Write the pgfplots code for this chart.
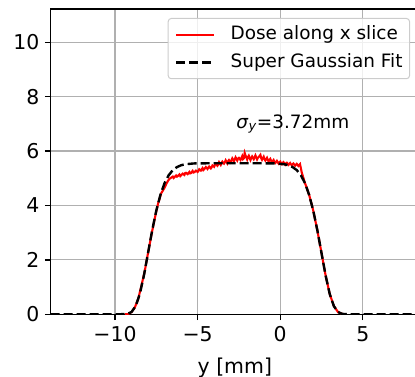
\documentclass[border=0pt]{standalone}
\usepackage{fontspec}
\setmainfont{DejaVu Sans}
\usepackage{pgfplots}
\pgfplotsset{compat=1.18}
\definecolor{gridgray}{HTML}{B0B0B0}
\definecolor{legframe}{HTML}{CCCCCC}
\begin{document}
\begin{tikzpicture}
\path[use as bounding box] (0bp,0bp) rectangle (415bp,377bp);
\begin{axis}[
  at={(50.7bp,62.7bp)}, anchor=south west,
  scale only axis, width=368.3bp, height=305.3bp,
  xmin=-13.89, xmax=8.4, ymin=0, ymax=11.22,
  xtick={-10,-5,0,5}, xticklabels={−10,−5,0,5},
  ytick={0,2,4,6,8,10}, yticklabels={0,2,4,6,8,10},
  xtick pos=lower, ytick pos=left,
  tick align=outside, major tick length=5.7bp,
  tick style={black, line width=1.3bp},
  axis line style={line width=1.3bp, black},
  grid=major, grid style={color=gridgray, line width=1.2bp},
  ticklabel style={font=\fontsize{20.5}{24}\selectfont},
  xticklabel style={yshift=-3bp},
  yticklabel style={xshift=-2bp},
  xlabel={y [mm]},
  xlabel style={font=\fontsize{20.5}{24}\selectfont, at={(axis description cs:0.5,0)}, anchor=base, yshift=-59.3bp},
  legend cell align=left,
  legend image code/.code={\draw[#1] (0bp,0bp) -- (38bp,0bp);},
  legend style={at={(1,1)}, anchor=north east, xshift=-9bp, yshift=-9bp,
    draw=legframe, line width=1bp, rounded corners=3bp, fill=white, fill opacity=0.8, text opacity=1,
    font=\fontsize{18.5}{20}\selectfont,
    inner xsep=7bp, inner ysep=7bp, column sep=15bp, row sep=9.2bp,
    nodes={inner sep=0bp, text height=14bp, text depth=4.5bp}},
]
\addplot[red, line width=2.1bp] coordinates {
(-9.4,0) (-9.2,0.01) (-9.0,0.08) (-8.8,0.25) (-8.6,0.55) (-8.4,1.05) (-8.2,1.58)
(-8.0,2.25) (-7.8,2.9) (-7.6,3.5) (-7.4,4.05) (-7.2,4.45) (-7.0,4.65) (-6.9,4.78)
(-6.8,4.9) (-6.7,4.98) (-6.6,5.02)
(-6.5,5.06) (-6.45,5.01) (-6.4,5.04) (-6.3,5.10) (-6.25,5.06) (-6.2,5.08) (-6.1,5.14) (-6.05,5.08) (-6.0,5.11) (-5.9,5.17)
(-5.8,5.12) (-5.75,5.19) (-5.7,5.20) (-5.6,5.15) (-5.5,5.23) (-5.45,5.18) (-5.4,5.19) (-5.3,5.27) (-5.25,5.21) (-5.2,5.22)
(-5.1,5.28) (-5.0,5.23) (-4.95,5.27) (-4.9,5.33) (-4.8,5.28) (-4.7,5.37) (-4.65,5.30) (-4.6,5.33) (-4.5,5.41)
(-4.4,5.34) (-4.35,5.39) (-4.3,5.43) (-4.2,5.36) (-4.15,5.40) (-4.1,5.47) (-4.0,5.42) (-3.95,5.49) (-3.9,5.53) (-3.8,5.46)
(-3.75,5.51) (-3.7,5.59) (-3.6,5.49) (-3.55,5.56) (-3.5,5.61) (-3.4,5.54) (-3.35,5.59) (-3.3,5.66) (-3.2,5.55) (-3.15,5.63) (-3.1,5.67)
(-3.0,5.59) (-2.95,5.66) (-2.9,5.73) (-2.8,5.62) (-2.75,5.70) (-2.7,5.77) (-2.6,5.65) (-2.55,5.72) (-2.5,5.75) (-2.4,5.67)
(-2.3,5.81) (-2.25,5.70) (-2.2,5.73) (-2.15,5.93) (-2.1,5.84) (-2.0,5.69) (-1.95,5.78) (-1.9,5.83) (-1.8,5.67) (-1.75,5.74) (-1.7,5.80)
(-1.6,5.70) (-1.55,5.77) (-1.5,5.84) (-1.4,5.69) (-1.35,5.75) (-1.3,5.78) (-1.2,5.86) (-1.15,5.74) (-1.1,5.68) (-1.0,5.79)
(-0.95,5.70) (-0.9,5.65) (-0.8,5.75) (-0.75,5.67) (-0.7,5.62) (-0.6,5.71) (-0.55,5.64) (-0.5,5.59) (-0.4,5.67) (-0.35,5.60) (-0.3,5.56)
(-0.2,5.64) (-0.1,5.54) (-0.05,5.58) (0.0,5.61) (0.1,5.52) (0.15,5.56) (0.2,5.59) (0.3,5.50) (0.35,5.55) (0.4,5.57)
(0.5,5.49) (0.6,5.56) (0.65,5.51) (0.7,5.48) (0.8,5.54) (0.9,5.46) (0.95,5.50) (1.0,5.53) (1.1,5.45)
(1.2,5.52) (1.3,5.22) (1.4,5.02) (1.5,4.82) (1.6,4.66) (1.75,4.39) (1.9,4.05)
(2.0,3.81) (2.25,3.08) (2.5,2.25) (2.75,1.42) (3.0,0.74) (3.25,0.30) (3.5,0.08)
(3.75,0.015) (3.9,0)
};
\addlegendentry{Dose along x slice}
\addplot[black, line width=2.4bp, dash pattern=on 9bp off 4bp] coordinates {
(-13.9,0) (-9.75,0) (-9.25,0.015) (-9.0,0.083) (-8.75,0.297) (-8.5,0.74) (-8.25,1.42)
(-8.0,2.25) (-7.75,3.08) (-7.5,3.81) (-7.25,4.39) (-7.0,4.82) (-6.75,5.11) (-6.5,5.30)
(-6.25,5.41) (-6.0,5.477) (-5.75,5.514) (-5.25,5.543) (-4.75,5.549) (-3.75,5.55)
(-2.75,5.55) (-1.75,5.55) (-0.75,5.549) (-0.25,5.543) (0.25,5.514) (0.5,5.477)
(0.75,5.41) (1.0,5.30) (1.25,5.11) (1.5,4.82) (1.75,4.39) (2.0,3.81) (2.25,3.08)
(2.5,2.25) (2.75,1.42) (3.0,0.74) (3.25,0.297) (3.5,0.083) (3.75,0.015) (4.25,0)
(8.4,0)
};
\addlegendentry{Super Gaussian Fit}
\node[anchor=west, inner sep=0pt, font=\fontsize{18.5}{20}\selectfont] at (axis cs:-2.66,7.0)
  {\textit{σ}\textsubscript{\textit{y}}=3.72mm};
\end{axis}
\end{tikzpicture}
\end{document}
